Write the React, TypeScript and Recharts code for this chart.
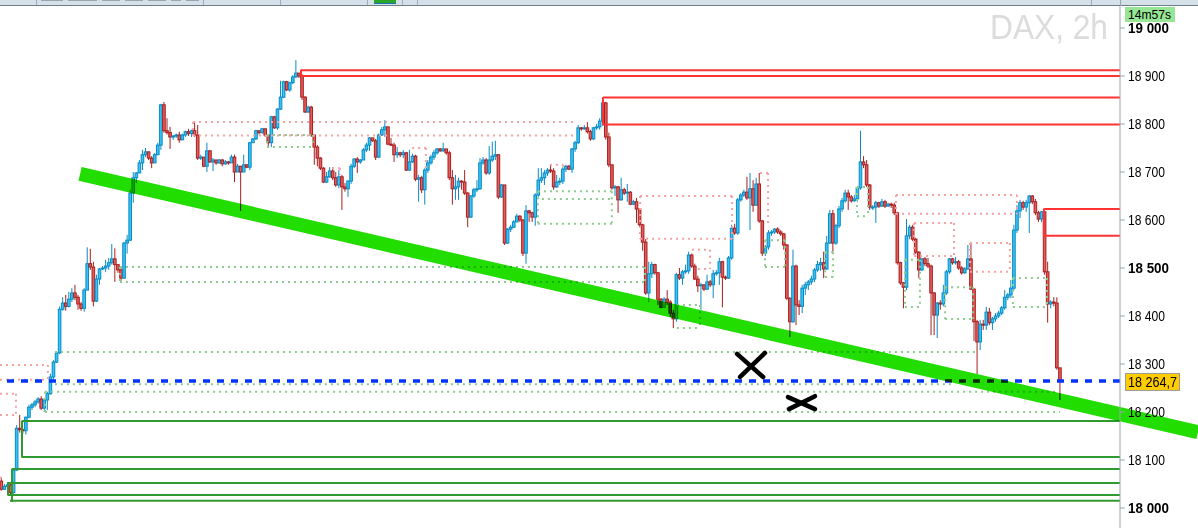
import React from 'react';
import { ComposedChart, Bar, XAxis, YAxis, ReferenceLine } from 'recharts';

// ---------- DATA ----------
const FIRST_OPEN = 18056;
const LAST_PRICE = 18264.7;
const SLOTS = 365;

const closes = [
18039,18045,18048,18032,18079,18166,18163,18161,18189,18210,
18215,18221,18227,18208,18225,18238,18273,18304,18323,18414,
18427,18420,18435,18448,18439,18425,18416,18454,18509,18502,
18431,18477,18498,18500,18504,18511,18519,18507,18496,18479,
18552,18558,18656,18688,18698,18719,18736,18742,18729,18719,
18736,18756,18840,18786,18782,18773,18775,18777,18767,18777,
18784,18780,18786,18777,18729,18731,18712,18744,18721,18725,
18719,18725,18717,18721,18719,18731,18700,18712,18700,18715,
18710,18761,18769,18786,18782,18790,18777,18761,18815,18792,
18831,18856,18888,18871,18886,18898,18906,18900,18856,18825,
18835,18777,18752,18729,18708,18679,18690,18702,18688,18673,
18690,18669,18665,18681,18712,18727,18721,18725,18746,18756,
18771,18765,18731,18777,18788,18794,18758,18756,18736,18740,
18736,18740,18704,18721,18733,18685,18688,18663,18704,18719,
18731,18740,18748,18744,18748,18740,18688,18665,18669,18681,
18679,18656,18606,18650,18663,18665,18719,18725,18698,18725,
18733,18736,18648,18673,18552,18581,18585,18596,18608,18600,
18531,18619,18615,18606,18652,18683,18688,18698,18704,18702,
18669,18679,18681,18706,18712,18706,18748,18761,18792,18790,
18792,18784,18769,18792,18794,18806,18844,18773,18715,18667,
18669,18642,18663,18656,18658,18633,18638,18623,18590,18554,
18448,18488,18507,18490,18435,18418,18435,18429,18406,18394,
18486,18479,18492,18494,18527,18504,18477,18463,18465,18456,
18471,18465,18488,18490,18513,18481,18479,18521,18583,18573,
18642,18652,18658,18646,18665,18631,18675,18598,18531,18544,
18573,18575,18581,18575,18571,18548,18437,18388,18504,18423,
18420,18458,18465,18471,18477,18496,18507,18511,18498,18552,
18613,18552,18588,18623,18640,18656,18648,18640,18644,18667,
18721,18715,18673,18627,18627,18636,18629,18638,18629,18633,
18631,18615,18511,18469,18460,18567,18585,18560,18533,18496,
18519,18509,18504,18448,18402,18427,18425,18448,18492,18519,
18511,18513,18500,18490,18498,18519,18456,18388,18346,18383,
18381,18408,18386,18394,18400,18406,18417,18439,18444,18458,
18579,18619,18636,18627,18636,18650,18638,18615,18602,18617,
18492,18425,18429,18427,18292,18264.7,
];

const highs = [
18064,18050,18054,18052,18083,18173,18194,18166,18191,18215,
18219,18225,18231,18233,18229,18242,18280,18308,18327,18420,
18439,18444,18450,18458,18465,18444,18429,18458,18543,18540,
18513,18486,18500,18504,18517,18521,18550,18541,18507,18500,
18554,18569,18663,18700,18700,18725,18746,18750,18742,18733,
18740,18761,18842,18846,18812,18794,18777,18780,18784,18780,
18786,18790,18788,18806,18798,18736,18731,18761,18746,18729,
18725,18727,18727,18725,18723,18736,18736,18717,18712,18736,
18715,18763,18771,18788,18786,18792,18790,18777,18817,18817,
18833,18890,18890,18890,18888,18902,18933,18906,18904,18858,
18838,18838,18777,18756,18731,18710,18700,18710,18710,18700,
18704,18694,18677,18683,18717,18729,18731,18727,18750,18761,
18773,18771,18769,18780,18794,18808,18792,18771,18761,18752,
18742,18746,18742,18746,18738,18736,18694,18692,18708,18725,
18736,18746,18750,18750,18761,18748,18744,18704,18694,18688,
18683,18704,18658,18652,18667,18683,18729,18731,18729,18754,
18763,18765,18736,18675,18673,18583,18590,18600,18613,18610,
18602,18631,18621,18617,18656,18708,18708,18704,18708,18715,
18708,18694,18688,18710,18715,18715,18750,18765,18798,18794,
18798,18804,18788,18794,18800,18812,18850,18846,18782,18715,
18673,18671,18688,18667,18675,18660,18642,18646,18625,18592,
18560,18513,18513,18509,18492,18437,18439,18454,18433,18413,
18490,18500,18496,18507,18534,18530,18509,18484,18469,18463,
18486,18475,18496,18496,18521,18515,18484,18525,18590,18592,
18646,18656,18663,18690,18698,18683,18688,18698,18600,18548,
18579,18579,18583,18585,18579,18573,18550,18439,18538,18507,
18433,18465,18471,18475,18484,18500,18515,18521,18534,18567,
18621,18621,18592,18629,18646,18663,18663,18652,18652,18671,
18786,18733,18725,18675,18631,18640,18638,18644,18642,18636,
18636,18636,18617,18513,18471,18602,18590,18590,18563,18535,
18521,18523,18521,18507,18450,18429,18433,18465,18496,18521,
18521,18523,18517,18504,18502,18548,18550,18458,18392,18392,
18392,18419,18417,18398,18406,18411,18421,18454,18448,18475,
18590,18631,18642,18640,18642,18652,18652,18644,18619,18619,
18617,18513,18433,18439,18439,18292,
];

const lows = [
18036,18038,18041,18025,18030,18077,18157,18155,18153,18187,
18204,18210,18217,18204,18200,18204,18236,18267,18302,18321,
18411,18411,18418,18429,18433,18413,18411,18409,18454,18496,
18420,18429,18465,18496,18492,18496,18507,18471,18490,18469,
18477,18530,18556,18636,18677,18698,18704,18731,18725,18708,
18719,18746,18746,18782,18778,18748,18767,18771,18761,18767,
18773,18775,18773,18773,18725,18725,18710,18700,18719,18702,
18715,18717,18712,18715,18715,18719,18679,18700,18619,18702,
18708,18704,18761,18767,18778,18780,18773,18752,18752,18790,
18788,18829,18854,18869,18867,18883,18896,18896,18850,18823,
18823,18773,18715,18712,18704,18677,18677,18688,18683,18669,
18666,18621,18659,18648,18675,18708,18698,18717,18729,18742,
18744,18763,18725,18729,18775,18773,18756,18754,18721,18729,
18731,18729,18702,18702,18719,18681,18638,18656,18632,18698,
18715,18725,18736,18742,18742,18736,18683,18632,18642,18642,
18663,18652,18585,18604,18646,18658,18663,18715,18694,18694,
18721,18725,18644,18646,18548,18550,18575,18583,18596,18596,
18525,18509,18596,18596,18588,18648,18677,18673,18692,18698,
18663,18667,18673,18675,18700,18704,18698,18742,18758,18786,
18788,18780,18765,18767,18788,18788,18796,18767,18710,18663,
18650,18615,18640,18652,18638,18631,18631,18594,18585,18536,
18444,18429,18479,18486,18423,18416,18425,18423,18398,18375,
18388,18475,18465,18488,18488,18500,18475,18450,18413,18452,
18454,18460,18437,18484,18465,18418,18475,18477,18517,18569,
18569,18638,18648,18642,18579,18617,18629,18594,18525,18525,
18538,18567,18571,18571,18567,18538,18433,18356,18386,18381,
18402,18406,18444,18454,18465,18471,18492,18494,18479,18496,
18550,18534,18548,18583,18617,18636,18621,18636,18638,18638,
18663,18708,18669,18621,18621,18594,18625,18627,18625,18627,
18625,18610,18507,18465,18416,18454,18560,18556,18529,18479,
18494,18504,18500,18360,18360,18354,18413,18420,18444,18488,
18507,18507,18496,18486,18488,18496,18454,18348,18279,18329,
18371,18371,18381,18371,18388,18396,18402,18413,18433,18437,
18454,18573,18604,18621,18617,18573,18633,18610,18596,18596,
18486,18386,18416,18420,18288,18225,
];

const yTicks = [18000, 18100, 18200, 18300, 18400, 18500, 18600, 18700, 18800, 18900, 19000];
const boldTicks = [18000, 18500, 19000];
const Y_DOMAIN: [number, number] = [17958.33, 19045.83];
const X_DOMAIN: [number, number] = [-0.5, SLOTS - 0.5];

// overlay segments: [index1, price1, index2, price2]
type Seg = [number, number, number, number];
const redSolid: Seg[] = [
  [97.6, 18912, 364.5, 18912], [97.6, 18900, 364.5, 18900], [97.6, 18913, 97.6, 18899],
  [196, 18855, 364.5, 18855], [196, 18799, 364.5, 18799], [196, 18856, 196, 18798],
  [339.7, 18623, 364.5, 18623], [339.7, 18567, 364.5, 18567], [339.7, 18624, 339.7, 18566],
];
const redDotted: Seg[] = [
  [-0.5, 18298, 15.1, 18298], [15.1, 18298, 15.1, 18267], [-0.5, 18267, 15.1, 18267],
  [-0.5, 18238, 4.7, 18238], [4.7, 18238, 4.7, 18194], [-0.5, 18194, 4.7, 18194],
  [-0.5, 18063, 1.1, 18063],
  [62.4, 18804, 187.5, 18804], [62.4, 18776, 187.5, 18776], [62.4, 18804, 62.4, 18776],
  [107.7, 18708, 110.3, 18708], [110.3, 18708, 110.3, 18694],
  [133.8, 18750, 138.3, 18750], [138.3, 18750, 138.3, 18708],
  [178.7, 18715, 183, 18715], [183, 18715, 183, 18704],
  [208.1, 18650, 238.1, 18650], [208.1, 18561, 238.1, 18561],
  [208.1, 18650, 208.1, 18561], [238.1, 18650, 238.1, 18561],
  [247.2, 18698, 249.8, 18698], [249.8, 18698, 249.8, 18590],
  [225, 18538, 230.9, 18538], [230.9, 18538, 230.9, 18498], [227, 18498, 230.9, 18498],
  [291.5, 18652, 330.9, 18652], [291.5, 18613, 330.9, 18613],
  [291.5, 18652, 291.5, 18613], [330.9, 18652, 330.9, 18613],
  [297.4, 18594, 310.4, 18594], [297.4, 18525, 310.4, 18525],
  [297.4, 18594, 297.4, 18525], [310.4, 18594, 310.4, 18525],
  [315.6, 18552, 328.6, 18552], [315.6, 18492, 328.6, 18492],
  [315.6, 18552, 315.6, 18492], [328.6, 18552, 328.6, 18492],
];
const greenDotted: Seg[] = [
  [38.6, 18502, 209.7, 18502], [38.6, 18471, 209.7, 18471],
  [38.6, 18502, 38.6, 18471], [209.7, 18502, 209.7, 18471],
  [17.4, 18325, 317.3, 18325], [17.4, 18258, 310.7, 18258],
  [14.2, 18242, 344, 18242], [14.2, 18200, 345, 18200], [14.2, 18242, 14.2, 18200],
  [86.5, 18777, 101.5, 18777], [86.5, 18752, 101.5, 18752],
  [86.5, 18777, 86.5, 18752], [101.5, 18777, 101.5, 18752],
  [174.8, 18660, 198.9, 18660], [176.1, 18644, 198.9, 18644], [174.8, 18592, 198.9, 18592],
  [174.8, 18660, 174.8, 18592], [198.9, 18660, 198.9, 18592],
  [220.1, 18423, 227.6, 18423], [220.1, 18375, 227.6, 18375], [227.6, 18423, 227.6, 18375],
  [248.8, 18558, 255.3, 18558], [248.8, 18502, 255.3, 18502],
  [248.8, 18558, 248.8, 18502], [255.3, 18558, 255.3, 18502],
  [278.8, 18669, 282.4, 18669], [278.8, 18608, 282.4, 18608],
  [278.8, 18669, 278.8, 18608], [282.4, 18669, 282.4, 18608],
  [268.4, 18533, 271, 18533], [268.4, 18481, 271, 18481],
  [268.4, 18533, 268.4, 18481], [271, 18533, 271, 18481],
  [294.4, 18517, 299.3, 18517], [294.4, 18419, 299.3, 18419],
  [294.4, 18517, 294.4, 18419], [299.3, 18517, 299.3, 18419],
  [307.5, 18460, 316.6, 18460], [307.5, 18394, 316.6, 18394],
  [307.5, 18460, 307.5, 18394], [316.6, 18460, 316.6, 18394],
  [329.6, 18479, 340.7, 18479], [329.6, 18419, 340.7, 18419],
  [329.6, 18479, 329.6, 18419], [340.7, 18479, 340.7, 18419],
];
const greenSolid: Seg[] = [
  [6.67, 18181, 364.5, 18181], [6.67, 18106, 364.5, 18106], [6.67, 18182, 6.67, 18105],
  [3.41, 18081, 364.5, 18081], [2.11, 18052, 364.5, 18052], [2.11, 18027, 364.5, 18027],
  [2.76, 18015, 364.5, 18015], [3.41, 18082, 3.41, 18013], [2.11, 18053, 2.11, 18026],
];
const trendLine: Seg = [25.6, 18696, 389.9, 18158];
const crossMarks: Seg[] = [
  [239.7, 18321, 248.2, 18273], [240.7, 18273, 248.8, 18323],
  [256.3, 18231, 265.1, 18206], [256.6, 18206, 265.1, 18233],
];

// ---------- helpers ----------
const fmt = (v: number, decimals = 0) => {
  const [a, b] = v.toFixed(decimals).split('.');
  const int = a.replace(/\B(?=(\d{3})+(?!\d))/g, ' ');
  return b ? `${int},${b}` : int;
};

const data = Array.from({ length: SLOTS }, (_, i) => {
  if (i >= closes.length) return { i };
  const open = i === 0 ? FIRST_OPEN : closes[i - 1];
  const close = closes[i];
  const lo = Math.min(lows[i], open, close);
  const hi = Math.max(highs[i], open, close);
  return { i, open, close, range: [lo, hi] };
});

const FONT = "'Liberation Sans', Arial, sans-serif";

const Candle = (props: any) => {
  const { x, y, width, height, payload } = props;
  if (!payload || payload.close == null || !isFinite(y) || !isFinite(height)) return null;
  const { open, close } = payload;
  const [lo, hi] = payload.range;
  const k = hi > lo ? height / (hi - lo) : 0;
  const cx = x + width / 2;
  const top = y + (hi - Math.max(open, close)) * k;
  const bot = y + (hi - Math.min(open, close)) * k;
  const up = close >= open;
  const edge = up ? '#0a8ac4' : '#a81e1e';
  const fill = up ? '#36c4f4' : '#e25c5c';
  return (
    <g>
      <line x1={cx} x2={cx} y1={y} y2={y + height} stroke={edge} strokeWidth={1} />
      <rect x={cx - 1.3} y={top} width={2.6} height={Math.max(bot - top, 1)} fill={fill} stroke={edge} strokeWidth={1} />
    </g>
  );
};

const AxisTick = (props: any) => {
  const { x, y, payload } = props;
  const v = payload.value;
  const bold = boldTicks.includes(v);
  return (
    <text x={x + 1} y={y + 5} fontSize={14} fontFamily={FONT} fontWeight={bold ? 700 : 400}
      fill="#000" textLength={bold ? 41 : 37} lengthAdjust="spacingAndGlyphs">
      {fmt(v)}
    </text>
  );
};

const PriceTag = (props: any) => {
  const vb = props.viewBox;
  if (!vb) return null;
  const x = vb.x + vb.width + 5;
  const y = vb.y;
  return (
    <g>
      <rect x={x + 0.5} y={y - 7.5} width={54} height={17} fill="#ffcc00" stroke="#9a9a9a" strokeWidth={1} />
      <text x={x + 3} y={y + 6} fontSize={14} fontFamily={FONT} fill="#000" textLength={49} lengthAdjust="spacingAndGlyphs">
        {fmt(LAST_PRICE, 1)}
      </text>
    </g>
  );
};

const seg = (s: Seg) => [{ x: s[0], y: s[1] }, { x: s[2], y: s[3] }];

export default function App() {
  const toolbarSeps = [36, 203, 280, 367, 402, 417, 1091];
  const toolbarBlocks: [number, number][] = [[41, 63], [68, 97], [102, 120], [125, 143], [148, 166], [171, 181], [186, 199]];
  return (
    <div style={{ position: 'absolute', left: 0, top: 0, width: 1198, height: 528, background: '#fff', overflow: 'hidden' }}>
      <svg width={1198} height={528} style={{ position: 'absolute', left: 0, top: 0 }}>
        <text x={1108} y={39} textAnchor="end" fontSize={35} fontFamily={FONT} fill="#dcdcdc"
          textLength={118} lengthAdjust="spacingAndGlyphs">DAX, 2h</text>
      </svg>
      <div style={{ position: 'absolute', left: 0, top: 0 }}>
        <ComposedChart width={1198} height={528} data={data} margin={{ top: 6, right: 0, bottom: 0, left: 0 }}>
          <XAxis xAxisId="cat" dataKey="i" type="category" hide />
          <XAxis xAxisId="num" dataKey="i" type="number" domain={X_DOMAIN} allowDataOverflow hide />
          <YAxis orientation="right" type="number" domain={Y_DOMAIN} allowDataOverflow ticks={yTicks}
            interval={0} width={78} tickSize={5} axisLine={{ stroke: '#98a6b0' }}
            tickLine={{ stroke: '#98a6b0' }} tick={<AxisTick />} />
          {greenDotted.map((s, k) => (
            <ReferenceLine key={'gd' + k} xAxisId="num" segment={seg(s)} stroke="#8ecb8e" strokeWidth={2}
              strokeDasharray="2 4" ifOverflow="visible" />
          ))}
          {redDotted.map((s, k) => (
            <ReferenceLine key={'rd' + k} xAxisId="num" segment={seg(s)} stroke="#f4a3a3" strokeWidth={2}
              strokeDasharray="2 4" ifOverflow="visible" />
          ))}
          {greenSolid.map((s, k) => (
            <ReferenceLine key={'gs' + k} xAxisId="num" segment={seg(s)} stroke="#2f9a2f" strokeWidth={2} ifOverflow="visible" />
          ))}
          {redSolid.map((s, k) => (
            <ReferenceLine key={'rs' + k} xAxisId="num" segment={seg(s)} stroke="#ff3333" strokeWidth={2} ifOverflow="visible" />
          ))}
          <Bar xAxisId="cat" dataKey="range" isAnimationActive={false} shape={(p: any) => <Candle {...p} />} />
          <ReferenceLine xAxisId="num" y={LAST_PRICE} stroke="#0033ff" strokeWidth={3.5} strokeDasharray="7 7"
            ifOverflow="visible" label={(p: any) => <PriceTag {...p} />} />
          {crossMarks.map((s, k) => (
            <ReferenceLine key={'x' + k} xAxisId="num" segment={seg(s)} stroke="#000" strokeWidth={4.5}
              strokeLinecap="round" ifOverflow="visible" />
          ))}
          <ReferenceLine xAxisId="num" segment={seg(trendLine)} ifOverflow="visible"
            shape={(p: any) => (
              <line x1={p.x1} y1={p.y1} x2={p.x2} y2={p.y2} stroke="#22dd00" strokeWidth={14}
                style={{ mixBlendMode: 'multiply' }} />
            )} />
        </ComposedChart>
      </div>
      {/* toolbar strip */}
      <div style={{ position: 'absolute', left: 0, top: 0, width: 1198, height: 5, background: '#d4e1e9', borderBottom: '1px solid #6f7e88' }} />
      {toolbarSeps.map((x) => (
        <div key={'s' + x} style={{ position: 'absolute', left: x, top: 0, width: 1, height: 5, background: '#9fb0bb' }} />
      ))}
      {toolbarBlocks.map(([a, b]) => (
        <div key={'b' + a} style={{ position: 'absolute', left: a, top: 0, width: b - a, height: 1, background: '#9aa6ae' }} />
      ))}
      <div style={{ position: 'absolute', left: 374, top: 0, width: 22, height: 3, background: '#2aa52a', borderBottom: '1px solid #1c6fb0' }} />
      <div style={{ position: 'absolute', left: 1120, top: 0, width: 1, height: 6, background: '#98a6b0' }} />
      <svg width={1198} height={528} style={{ position: 'absolute', left: 0, top: 0, pointerEvents: 'none' }}>
        <rect x={1125} y={7} width={50} height={15} fill="#96e696" />
        <text x={1128} y={19} fontSize={13} fontFamily={FONT} fill="#000" textLength={43} lengthAdjust="spacingAndGlyphs">14m57s</text>
      </svg>
    </div>
  );
}
